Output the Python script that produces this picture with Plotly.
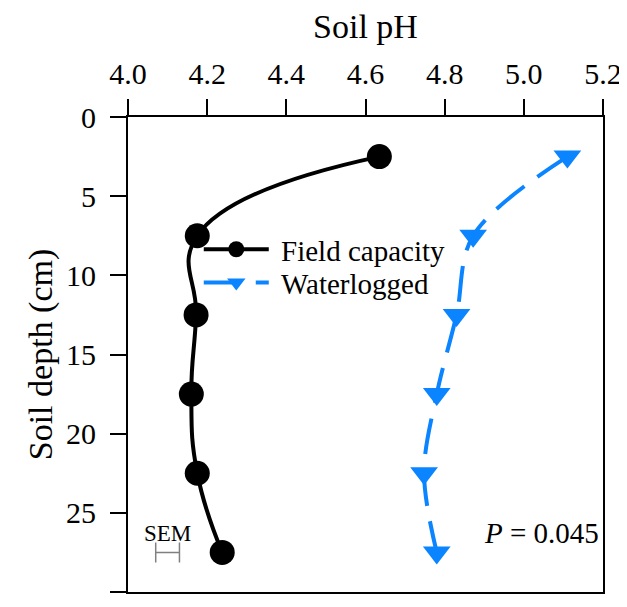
import plotly.graph_objects as go

depth = [2.5, 7.5, 12.5, 17.5, 22.5, 27.5]
ph_field = [4.635, 4.175, 4.172, 4.16, 4.175, 4.238]
ph_water = [5.11, 4.872, 4.83, 4.78, 4.748, 4.78]
sem_x = [4.10]
sem_y = [27.5]
sem_err = [0.03]
x_ticks = [4.0, 4.2, 4.4, 4.6, 4.8, 5.0, 5.2]
y_ticks = [0, 5, 10, 15, 20, 25, 30]

FONT = "Liberation Serif"
BLUE = "#0a84ff"

fig = go.Figure()
fig.add_trace(go.Scatter(
    x=ph_field, y=depth, mode="lines+markers", name="&nbsp;Field capacity", legend="legend",
    line=dict(color="black", width=4, shape="spline", smoothing=1.3),
    marker=dict(symbol="circle", size=25, color="black"),
))
fig.add_trace(go.Scatter(
    x=ph_water, y=depth, mode="lines+markers", name="&nbsp;Waterlogged", legend="legend2",
    line=dict(color=BLUE, width=4, shape="spline", smoothing=1.0, dash="36px,16px"),
    marker=dict(symbol="triangle-down", size=24, color=BLUE),
))
fig.add_trace(go.Scatter(
    x=sem_x, y=sem_y, mode="markers", showlegend=False,
    marker=dict(size=1, color="rgba(0,0,0,0)"),
    error_x=dict(type="data", array=sem_err, color="#808080", thickness=1.5, width=10),
))

fig.add_annotation(x=sem_x[0], y=26.3, xref="x", yref="y", text="SEM", showarrow=False,
                   font=dict(family=FONT, size=23, color="black"), yanchor="middle")
fig.add_annotation(x=0.995, y=26.3, xref="paper", yref="y", text="<i>P</i> = 0.045", showarrow=False,
                   font=dict(family=FONT, size=29, color="black"), xanchor="right", yanchor="middle")

legend_common = dict(xanchor="left", yanchor="top", bgcolor="rgba(0,0,0,0)",
                     font=dict(family=FONT, size=29, color="black"), itemwidth=65)

fig.update_layout(
    width=619, height=599,
    margin=dict(l=120, r=24, t=109, b=15, autoexpand=False),
    paper_bgcolor="white", plot_bgcolor="white",
    font=dict(family=FONT, color="black"),
    legend=dict(x=0.149, y=0.775, **legend_common),
    legend2=dict(x=0.149, y=0.705, **legend_common),
    xaxis=dict(
        side="top", range=[4.0, 5.2], tickvals=x_ticks, ticktext=[f"{v:.1f}" for v in x_ticks],
        ticks="outside", ticklen=16, tickwidth=2, tickcolor="black", ticklabelstandoff=3,
        showline=True, linecolor="black", linewidth=2, mirror=True,
        showgrid=False, zeroline=False, automargin=False,
        tickfont=dict(family=FONT, size=30, color="black"),
        title=dict(text="Soil pH", font=dict(family=FONT, size=34, color="black"), standoff=12),
    ),
    yaxis=dict(
        range=[30, 0], tickvals=y_ticks,
        ticks="outside", ticklen=16, tickwidth=2, tickcolor="black", ticklabelstandoff=8,
        showline=True, linecolor="black", linewidth=2, mirror=True,
        showgrid=False, zeroline=False, automargin=False,
        tickfont=dict(family=FONT, size=30, color="black"),
        title=dict(text="Soil depth (cm)", font=dict(family=FONT, size=34, color="black"), standoff=3),
    ),
)

fig.write_html("out.html")
